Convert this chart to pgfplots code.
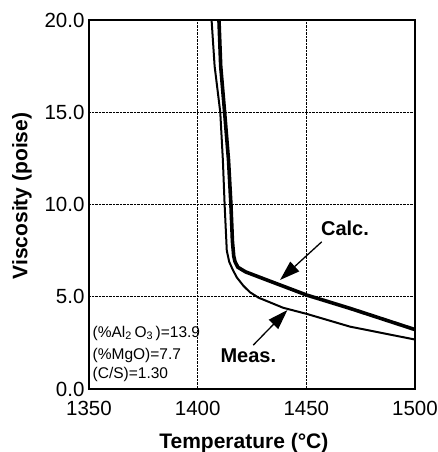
\documentclass[border=0pt]{standalone}
\usepackage{fontspec}
\setmainfont{Liberation Sans}
\usepackage{pgfplots}
\pgfplotsset{compat=1.18}
\usetikzlibrary{arrows.meta}

\begin{document}
\begin{tikzpicture}
\begin{axis}[
  scale only axis, width=326pt, height=369pt,
  xmin=1350, xmax=1500, ymin=0, ymax=20,
  xtick={1350,1400,1450,1500}, ytick={0,5,10,15,20},
  major tick length=0pt,
  grid=major,
  major grid style={densely dotted, line width=1.4pt, black},
  axis line style={line width=1.6pt},
  /pgf/number format/assume math mode=true,
  xticklabel style={/pgf/number format/1000 sep={}, font=\fontsize{20.5}{24}\selectfont, yshift=-9pt},
  yticklabel style={/pgf/number format/fixed, /pgf/number format/fixed zerofill, /pgf/number format/precision=1, font=\fontsize{20.5}{24}\selectfont, xshift=-1pt},
  xlabel={Temperature (°C)},
  ylabel={Viscosity (poise)},
  xlabel style={at={(ticklabel cs:0.475)}, font=\bfseries\fontsize{21}{25}\selectfont, yshift=-10pt},
  ylabel style={at={(ticklabel cs:0.523)}, font=\bfseries\fontsize{21}{25}\selectfont, yshift=6pt},
  clip=true,
]
\addplot[black, line width=3.6pt, line join=round] coordinates {
(1409.8,20) (1410.6,17.5) (1412.4,15) (1414.2,12.4) (1415.3,10) (1416.0,8)
(1416.6,7.2) (1417.2,6.9) (1418.5,6.6) (1422,6.35) (1431.8,5.91)
(1450.2,5.09) (1470.1,4.37) (1500,3.22)
};
\addplot[black, line width=2pt, line join=round] coordinates {
(1406.4,20) (1407.8,17.5) (1410.4,15) (1411.6,12.4) (1412.4,10) (1413.4,7.5)
(1414.5,6.9) (1416,6.5) (1418,6.05) (1421,5.6) (1424,5.25) (1428,4.95)
(1439.4,4.4) (1450.2,4.07) (1470.1,3.38) (1500,2.68)
};
\draw[line width=1.3pt, -{Triangle[length=20pt,width=13pt]}] (axis cs:1457.1,7.98) -- (axis cs:1437.9,5.91);
\draw[line width=1.3pt, -{Triangle[length=20pt,width=13pt]}] (axis cs:1425.6,2.38) -- (axis cs:1441.3,4.28);
\node[font=\bfseries\fontsize{20}{24}\selectfont] at (axis cs:1467.8,8.73) {Calc.};
\node[font=\bfseries\fontsize{20}{24}\selectfont] at (axis cs:1423.3,1.82) {Meas.};
\node[anchor=west, inner sep=0pt, font=\fontsize{15.5}{18}\selectfont] at (axis cs:1351.6,3.02) {(\%Al\textsubscript{2}\,O\textsubscript{3}\,)=13.9};
\node[anchor=west, inner sep=0pt, font=\fontsize{15.5}{18}\selectfont] at (axis cs:1351.6,1.84) {(\%MgO)=7.7};
\node[anchor=west, inner sep=0pt, font=\fontsize{15.5}{18}\selectfont] at (axis cs:1351.6,0.76) {(C/S)=1.30};
\end{axis}
\path (current axis.south west) ++(-89pt,-63pt) coordinate (bl);
\path (current axis.north east) ++(23pt,20pt) coordinate (tr);
\pgfresetboundingbox
\path[use as bounding box] (bl) rectangle (tr);
\end{tikzpicture}
\end{document}
